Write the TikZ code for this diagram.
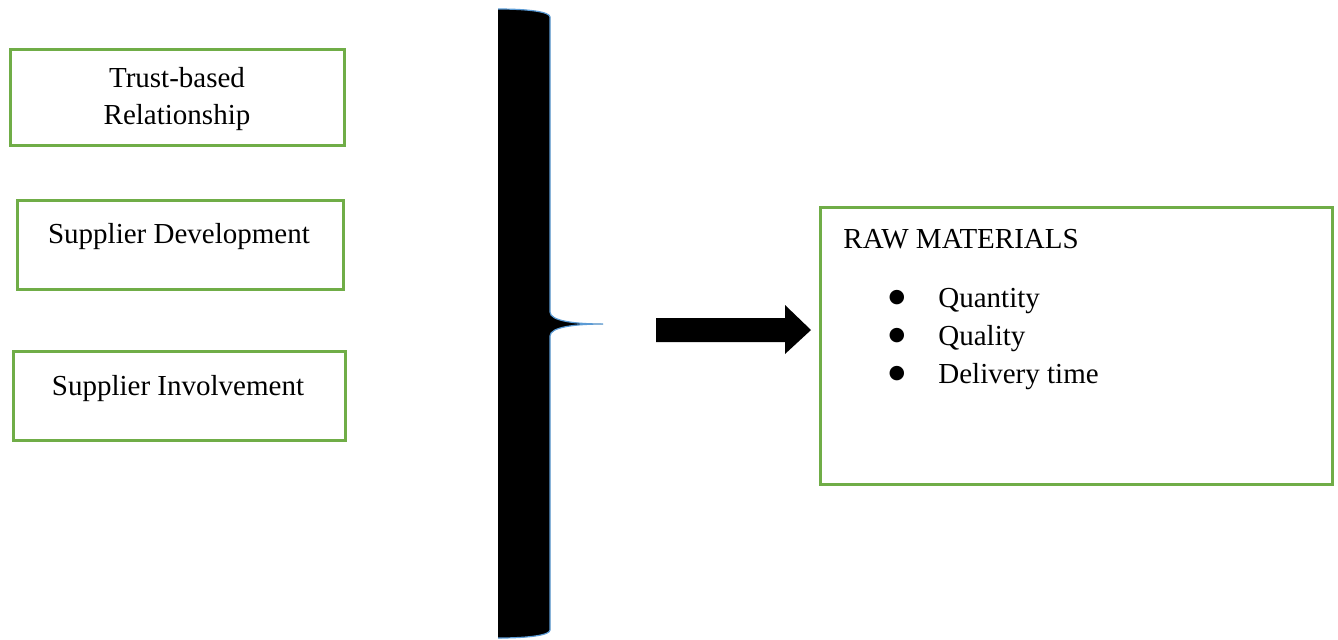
\documentclass[tikz,border=0pt]{standalone}
\usepackage{fontspec}
\setmainfont{Liberation Serif}
\newfontfamily\symfont{DejaVu Sans}
\definecolor{boxgreen}{HTML}{70AD47}
\definecolor{braceblue}{HTML}{5B9BD5}
\begin{document}
\begin{tikzpicture}[x=0.5pt,y=-0.5pt,
  gbox/.style={draw=boxgreen, line width=1.5pt, rectangle, inner sep=0pt},
  txt/.style={font=\fontsize{14.5pt}{18.5pt}\selectfont, inner sep=0pt},
  bul/.style={font=\symfont\fontsize{9.5pt}{10pt}\selectfont, inner sep=0pt, anchor=center},
]
\useasboundingbox (0,0) rectangle (1338,639);
% left boxes
\node[gbox, minimum width=167pt, minimum height=48pt] (b1) at (177,97) {};
\node[gbox, minimum width=163pt, minimum height=44.5pt] (b2) at (180,244.5) {};
\node[gbox, minimum width=166pt, minimum height=44.5pt] (b3) at (179,395.5) {};
\node[txt, anchor=base] (t1a) at (177,87) {Trust-based};
\node[txt, anchor=base] (t1b) at (177,124) {Relationship};
\node[txt, anchor=base] (t2) at (179,243) {Supplier Development};
\node[txt, anchor=base] (t3) at (178,395) {Supplier Involvement};
% brace
\fill[black] (498,9) .. controls (530,9) and (550,12) .. (550,17)
  -- (550,312) .. controls (550,321) and (575,324) .. (603,324)
  .. controls (575,324) and (550,327) .. (550,336)
  -- (550,630) .. controls (550,635) and (530,638) .. (498,638) -- cycle;
\draw[braceblue, line width=0.6pt] (498,9) .. controls (530,9) and (550,12) .. (550,17)
  -- (550,312) .. controls (550,321) and (575,324) .. (603,324)
  .. controls (575,324) and (550,327) .. (550,336)
  -- (550,630) .. controls (550,635) and (530,638) .. (498,638);
% block arrow
\fill[black] (656,318) -- (785,318) -- (785,305) -- (811,330) -- (785,354) -- (785,342) -- (656,342) -- cycle;
% raw materials box
\node[gbox, minimum width=256pt, minimum height=138.5pt] (rm) at (1076,345.5) {};
\node[txt, anchor=base west] (rmt) at (843,248) {RAW MATERIALS};
\node[bul] (bu1) at (897,298) {●};
\node[txt, anchor=base west] (l1) at (938,307) {Quantity};
\node[bul] (bu2) at (897,336) {●};
\node[txt, anchor=base west] (l2) at (938,345) {Quality};
\node[bul] (bu3) at (897,374) {●};
\node[txt, anchor=base west] (l3) at (938,383) {Delivery time};
\end{tikzpicture}
\end{document}
